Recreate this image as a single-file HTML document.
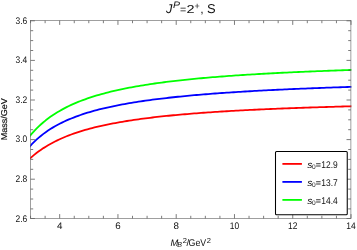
<!DOCTYPE html><html><head><meta charset="utf-8"><style>html,body{margin:0;padding:0;background:#fff;}svg{display:block;}svg{will-change:transform;}text{text-rendering:geometricPrecision;font-family:"Liberation Sans",sans-serif;fill:#111;}</style></head><body>
<svg width="357" height="250" viewBox="0 0 357 250">
<clipPath id="c"><rect x="30.0" y="20.5" width="321.4" height="198.0"/></clipPath>
<g clip-path="url(#c)" fill="none" stroke-width="1.8" stroke-linejoin="round">
<path d="M29.50,158.93 L31.82,156.85 L34.14,154.89 L36.46,153.04 L38.78,151.31 L41.10,149.67 L43.42,148.12 L45.74,146.65 L48.06,145.25 L50.37,143.93 L52.69,142.68 L55.01,141.48 L57.33,140.34 L59.65,139.26 L61.97,138.22 L64.29,137.23 L66.61,136.28 L68.93,135.38 L71.25,134.51 L73.57,133.68 L75.89,132.88 L78.21,132.11 L80.53,131.37 L82.85,130.67 L85.17,129.98 L87.49,129.33 L89.81,128.69 L92.12,128.08 L94.44,127.49 L96.76,126.93 L99.08,126.38 L101.40,125.85 L103.72,125.33 L106.04,124.84 L108.36,124.36 L110.68,123.89 L113.00,123.44 L115.32,123.01 L117.64,122.58 L119.96,122.17 L122.28,121.77 L124.60,121.39 L126.92,121.01 L129.24,120.65 L131.55,120.29 L133.87,119.95 L136.19,119.61 L138.51,119.28 L140.83,118.97 L143.15,118.66 L145.47,118.36 L147.79,118.06 L150.11,117.78 L152.43,117.50 L154.75,117.23 L157.07,116.96 L159.39,116.70 L161.71,116.45 L164.03,116.20 L166.35,115.96 L168.67,115.73 L170.98,115.50 L173.30,115.27 L175.62,115.05 L177.94,114.84 L180.26,114.63 L182.58,114.43 L184.90,114.23 L187.22,114.03 L189.54,113.84 L191.86,113.65 L194.18,113.46 L196.50,113.28 L198.82,113.11 L201.14,112.93 L203.46,112.77 L205.78,112.60 L208.10,112.44 L210.42,112.28 L212.73,112.12 L215.05,111.97 L217.37,111.82 L219.69,111.67 L222.01,111.52 L224.33,111.38 L226.65,111.24 L228.97,111.10 L231.29,110.97 L233.61,110.84 L235.93,110.71 L238.25,110.58 L240.57,110.45 L242.89,110.33 L245.21,110.21 L247.53,110.09 L249.85,109.97 L252.16,109.86 L254.48,109.75 L256.80,109.63 L259.12,109.52 L261.44,109.42 L263.76,109.31 L266.08,109.21 L268.40,109.10 L270.72,109.00 L273.04,108.90 L275.36,108.81 L277.68,108.71 L280.00,108.62 L282.32,108.52 L284.64,108.43 L286.96,108.34 L289.28,108.25 L291.59,108.16 L293.91,108.08 L296.23,107.99 L298.55,107.91 L300.87,107.83 L303.19,107.74 L305.51,107.66 L307.83,107.59 L310.15,107.51 L312.47,107.43 L314.79,107.35 L317.11,107.28 L319.43,107.21 L321.75,107.13 L324.07,107.06 L326.39,106.99 L328.71,106.92 L331.03,106.85 L333.34,106.78 L335.66,106.72 L337.98,106.65 L340.30,106.59 L342.62,106.52 L344.94,106.46 L347.26,106.39 L349.58,106.33 L351.90,106.27" stroke="#ff0000"/>
<path d="M29.50,146.77 L31.82,144.24 L34.14,141.88 L36.46,139.68 L38.78,137.62 L41.10,135.70 L43.42,133.89 L45.74,132.19 L48.06,130.58 L50.37,129.07 L52.69,127.64 L55.01,126.28 L57.33,124.99 L59.65,123.77 L61.97,122.60 L64.29,121.49 L66.61,120.44 L68.93,119.43 L71.25,118.46 L73.57,117.54 L75.89,116.65 L78.21,115.80 L80.53,114.99 L82.85,114.21 L85.17,113.46 L87.49,112.73 L89.81,112.04 L92.12,111.37 L94.44,110.72 L96.76,110.09 L99.08,109.49 L101.40,108.91 L103.72,108.35 L106.04,107.80 L108.36,107.28 L110.68,106.77 L113.00,106.27 L115.32,105.79 L117.64,105.33 L119.96,104.88 L122.28,104.44 L124.60,104.01 L126.92,103.60 L129.24,103.20 L131.55,102.81 L133.87,102.43 L136.19,102.06 L138.51,101.70 L140.83,101.35 L143.15,101.01 L145.47,100.68 L147.79,100.35 L150.11,100.04 L152.43,99.73 L154.75,99.43 L157.07,99.13 L159.39,98.84 L161.71,98.56 L164.03,98.29 L166.35,98.02 L168.67,97.76 L170.98,97.50 L173.30,97.25 L175.62,97.01 L177.94,96.77 L180.26,96.53 L182.58,96.30 L184.90,96.08 L187.22,95.86 L189.54,95.64 L191.86,95.43 L194.18,95.22 L196.50,95.02 L198.82,94.82 L201.14,94.62 L203.46,94.43 L205.78,94.24 L208.10,94.06 L210.42,93.88 L212.73,93.70 L215.05,93.52 L217.37,93.35 L219.69,93.18 L222.01,93.02 L224.33,92.86 L226.65,92.70 L228.97,92.54 L231.29,92.38 L233.61,92.23 L235.93,92.08 L238.25,91.94 L240.57,91.79 L242.89,91.65 L245.21,91.51 L247.53,91.37 L249.85,91.24 L252.16,91.10 L254.48,90.97 L256.80,90.84 L259.12,90.71 L261.44,90.59 L263.76,90.47 L266.08,90.34 L268.40,90.22 L270.72,90.11 L273.04,89.99 L275.36,89.88 L277.68,89.76 L280.00,89.65 L282.32,89.54 L284.64,89.43 L286.96,89.33 L289.28,89.22 L291.59,89.12 L293.91,89.02 L296.23,88.92 L298.55,88.82 L300.87,88.72 L303.19,88.62 L305.51,88.53 L307.83,88.43 L310.15,88.34 L312.47,88.25 L314.79,88.16 L317.11,88.07 L319.43,87.98 L321.75,87.89 L324.07,87.80 L326.39,87.72 L328.71,87.63 L331.03,87.55 L333.34,87.47 L335.66,87.39 L337.98,87.31 L340.30,87.23 L342.62,87.15 L344.94,87.07 L347.26,87.00 L349.58,86.92 L351.90,86.85" stroke="#0000ff"/>
<path d="M29.50,136.36 L31.82,133.61 L34.14,131.03 L36.46,128.62 L38.78,126.36 L41.10,124.23 L43.42,122.22 L45.74,120.33 L48.06,118.54 L50.37,116.85 L52.69,115.25 L55.01,113.73 L57.33,112.28 L59.65,110.91 L61.97,109.60 L64.29,108.35 L66.61,107.16 L68.93,106.02 L71.25,104.93 L73.57,103.89 L75.89,102.89 L78.21,101.93 L80.53,101.01 L82.85,100.12 L85.17,99.28 L87.49,98.46 L89.81,97.67 L92.12,96.91 L94.44,96.18 L96.76,95.48 L99.08,94.80 L101.40,94.14 L103.72,93.51 L106.04,92.89 L108.36,92.30 L110.68,91.73 L113.00,91.17 L115.32,90.63 L117.64,90.11 L119.96,89.60 L122.28,89.11 L124.60,88.64 L126.92,88.17 L129.24,87.72 L131.55,87.29 L133.87,86.86 L136.19,86.45 L138.51,86.05 L140.83,85.66 L143.15,85.28 L145.47,84.90 L147.79,84.54 L150.11,84.19 L152.43,83.85 L154.75,83.51 L157.07,83.19 L159.39,82.87 L161.71,82.56 L164.03,82.26 L166.35,81.96 L168.67,81.67 L170.98,81.39 L173.30,81.11 L175.62,80.84 L177.94,80.58 L180.26,80.32 L182.58,80.07 L184.90,79.82 L187.22,79.58 L189.54,79.34 L191.86,79.11 L194.18,78.88 L196.50,78.66 L198.82,78.44 L201.14,78.23 L203.46,78.02 L205.78,77.81 L208.10,77.61 L210.42,77.42 L212.73,77.22 L215.05,77.03 L217.37,76.85 L219.69,76.66 L222.01,76.48 L224.33,76.31 L226.65,76.14 L228.97,75.97 L231.29,75.80 L233.61,75.64 L235.93,75.47 L238.25,75.32 L240.57,75.16 L242.89,75.01 L245.21,74.86 L247.53,74.71 L249.85,74.57 L252.16,74.42 L254.48,74.28 L256.80,74.15 L259.12,74.01 L261.44,73.88 L263.76,73.74 L266.08,73.62 L268.40,73.49 L270.72,73.36 L273.04,73.24 L275.36,73.12 L277.68,73.00 L280.00,72.88 L282.32,72.76 L284.64,72.65 L286.96,72.54 L289.28,72.43 L291.59,72.32 L293.91,72.21 L296.23,72.10 L298.55,72.00 L300.87,71.90 L303.19,71.79 L305.51,71.69 L307.83,71.59 L310.15,71.50 L312.47,71.40 L314.79,71.31 L317.11,71.21 L319.43,71.12 L321.75,71.03 L324.07,70.94 L326.39,70.85 L328.71,70.76 L331.03,70.68 L333.34,70.59 L335.66,70.51 L337.98,70.42 L340.30,70.34 L342.62,70.26 L344.94,70.18 L347.26,70.10 L349.58,70.02 L351.90,69.95" stroke="#00ff00"/>
</g>
<path d="M30.55,218.5 v-2.7 M30.55,20.5 v2.7 M45.12,218.5 v-2.7 M45.12,20.5 v2.7 M59.68,218.5 v-4.4 M59.68,20.5 v4.4 M74.25,218.5 v-2.7 M74.25,20.5 v2.7 M88.81,218.5 v-2.7 M88.81,20.5 v2.7 M103.38,218.5 v-2.7 M103.38,20.5 v2.7 M117.95,218.5 v-4.4 M117.95,20.5 v4.4 M132.51,218.5 v-2.7 M132.51,20.5 v2.7 M147.08,218.5 v-2.7 M147.08,20.5 v2.7 M161.64,218.5 v-2.7 M161.64,20.5 v2.7 M176.21,218.5 v-4.4 M176.21,20.5 v4.4 M190.78,218.5 v-2.7 M190.78,20.5 v2.7 M205.34,218.5 v-2.7 M205.34,20.5 v2.7 M219.91,218.5 v-2.7 M219.91,20.5 v2.7 M234.47,218.5 v-4.4 M234.47,20.5 v4.4 M249.04,218.5 v-2.7 M249.04,20.5 v2.7 M263.61,218.5 v-2.7 M263.61,20.5 v2.7 M278.17,218.5 v-2.7 M278.17,20.5 v2.7 M292.74,218.5 v-4.4 M292.74,20.5 v4.4 M307.30,218.5 v-2.7 M307.30,20.5 v2.7 M321.87,218.5 v-2.7 M321.87,20.5 v2.7 M336.44,218.5 v-2.7 M336.44,20.5 v2.7 M351.00,218.5 v-4.4 M351.00,20.5 v4.4 M30.5,218.50 h4.4 M350.9,218.50 h-4.4 M30.5,208.90 h2.7 M350.9,208.90 h-2.7 M30.5,199.00 h2.7 M350.9,199.00 h-2.7 M30.5,189.10 h2.7 M350.9,189.10 h-2.7 M30.5,179.20 h4.4 M350.9,179.20 h-4.4 M30.5,169.30 h2.7 M350.9,169.30 h-2.7 M30.5,159.40 h2.7 M350.9,159.40 h-2.7 M30.5,149.50 h2.7 M350.9,149.50 h-2.7 M30.5,139.60 h4.4 M350.9,139.60 h-4.4 M30.5,129.70 h2.7 M350.9,129.70 h-2.7 M30.5,119.80 h2.7 M350.9,119.80 h-2.7 M30.5,109.90 h2.7 M350.9,109.90 h-2.7 M30.5,100.00 h4.4 M350.9,100.00 h-4.4 M30.5,90.10 h2.7 M350.9,90.10 h-2.7 M30.5,80.20 h2.7 M350.9,80.20 h-2.7 M30.5,70.30 h2.7 M350.9,70.30 h-2.7 M30.5,60.40 h4.4 M350.9,60.40 h-4.4 M30.5,50.50 h2.7 M350.9,50.50 h-2.7 M30.5,40.60 h2.7 M350.9,40.60 h-2.7 M30.5,30.70 h2.7 M350.9,30.70 h-2.7 M30.5,20.80 h4.4 M350.9,20.80 h-4.4" stroke="#505050" stroke-width="0.75" fill="none"/>
<rect x="30.5" y="20.5" width="320.4" height="198.0" fill="none" stroke="#666" stroke-width="0.62"/>
<text transform="translate(59.68,228.80) scale(1.02,1)" font-size="9.6" text-anchor="middle">4</text>
<text transform="translate(117.95,228.80) scale(1.02,1)" font-size="9.6" text-anchor="middle">6</text>
<text transform="translate(176.21,228.80) scale(1.02,1)" font-size="9.6" text-anchor="middle">8</text>
<text transform="translate(234.47,228.80) scale(0.88,1)" font-size="9.6" text-anchor="middle">10</text>
<text transform="translate(292.74,228.80) scale(0.88,1)" font-size="9.6" text-anchor="middle">12</text>
<text transform="translate(351.00,228.80) scale(0.88,1)" font-size="9.6" text-anchor="middle">14</text>
<text transform="translate(27.30,221.70) scale(0.88,1)" font-size="9.6" text-anchor="end">2.6</text>
<text transform="translate(27.30,182.10) scale(0.88,1)" font-size="9.6" text-anchor="end">2.8</text>
<text transform="translate(27.30,141.70) scale(0.88,1)" font-size="9.6" text-anchor="end">3.0</text>
<text transform="translate(27.30,102.90) scale(0.88,1)" font-size="9.6" text-anchor="end">3.2</text>
<text transform="translate(27.30,63.30) scale(0.88,1)" font-size="9.6" text-anchor="end">3.4</text>
<text transform="translate(27.30,23.70) scale(0.88,1)" font-size="9.6" text-anchor="end">3.6</text>
<text transform="translate(165.90,12.70)" font-size="12.8" text-anchor="start" font-style="italic">J</text>
<text transform="translate(172.90,7.60) scale(1.12,1)" font-size="9.4" text-anchor="start" font-style="italic">P</text>
<text transform="translate(179.90,12.70)" font-size="10.6" text-anchor="start">=</text>
<text transform="translate(186.50,12.60) scale(1.26,1)" font-size="11.5" text-anchor="start">2</text>
<text transform="translate(194.45,9.45)" font-size="9.0" text-anchor="start">+</text>
<text transform="translate(200.30,12.60)" font-size="12.2" text-anchor="start">,</text>
<text transform="translate(206.90,12.75) scale(1.01,1)" font-size="12.8" text-anchor="start">S</text>
<text transform="translate(170.60,245.60)" font-size="9.4" text-anchor="start" font-style="italic">M</text>
<text transform="translate(177.30,247.00) scale(0.98,1)" font-size="7.2" text-anchor="start" font-style="italic">B</text>
<text transform="translate(182.70,243.00) scale(1.05,1)" font-size="7.2" text-anchor="start">2</text>
<text transform="translate(186.50,245.60)" font-size="9.6" text-anchor="start">/</text>
<text transform="translate(188.60,245.60) scale(0.9,1)" font-size="9.8" text-anchor="start">GeV</text>
<text transform="translate(206.80,243.00) scale(1.05,1)" font-size="7.2" text-anchor="start">2</text>
<text transform="translate(7.05,140.30) rotate(-90) scale(1.06,1)" font-size="8.5" text-anchor="start" stroke="#111" stroke-width="0.2">Mass/GeV</text>
<rect x="275.5" y="151.4" width="71.75" height="63.25" rx="1" ry="1" fill="#fff" stroke="#000" stroke-width="1.05"/>
<path d="M282.4,163.9 H301.9" stroke="#ff0000" stroke-width="1.8"/>
<text transform="translate(307.20,167.85) scale(1.07,1)" font-size="9.6" text-anchor="start" font-style="italic">s</text>
<text transform="translate(311.90,168.70)" font-size="6.6" text-anchor="start">0</text>
<path d="M316.1,163.75 h4.5 M316.1,166.00 h4.5" stroke="#111" stroke-width="0.85" fill="none"/>
<text transform="translate(321.35,167.85) scale(0.86,1)" font-size="9.8" text-anchor="start">12.9</text>
<path d="M282.4,181.9 H301.9" stroke="#0000ff" stroke-width="1.8"/>
<text transform="translate(307.20,185.85) scale(1.07,1)" font-size="9.6" text-anchor="start" font-style="italic">s</text>
<text transform="translate(311.90,186.70)" font-size="6.6" text-anchor="start">0</text>
<path d="M316.1,181.75 h4.5 M316.1,184.00 h4.5" stroke="#111" stroke-width="0.85" fill="none"/>
<text transform="translate(321.35,185.85) scale(0.86,1)" font-size="9.8" text-anchor="start">13.7</text>
<path d="M282.4,199.9 H301.9" stroke="#00ff00" stroke-width="1.8"/>
<text transform="translate(307.20,203.85) scale(1.07,1)" font-size="9.6" text-anchor="start" font-style="italic">s</text>
<text transform="translate(311.90,204.70)" font-size="6.6" text-anchor="start">0</text>
<path d="M316.1,199.75 h4.5 M316.1,202.00 h4.5" stroke="#111" stroke-width="0.85" fill="none"/>
<text transform="translate(321.35,203.85) scale(0.86,1)" font-size="9.8" text-anchor="start">14.4</text>
</svg></body></html>
